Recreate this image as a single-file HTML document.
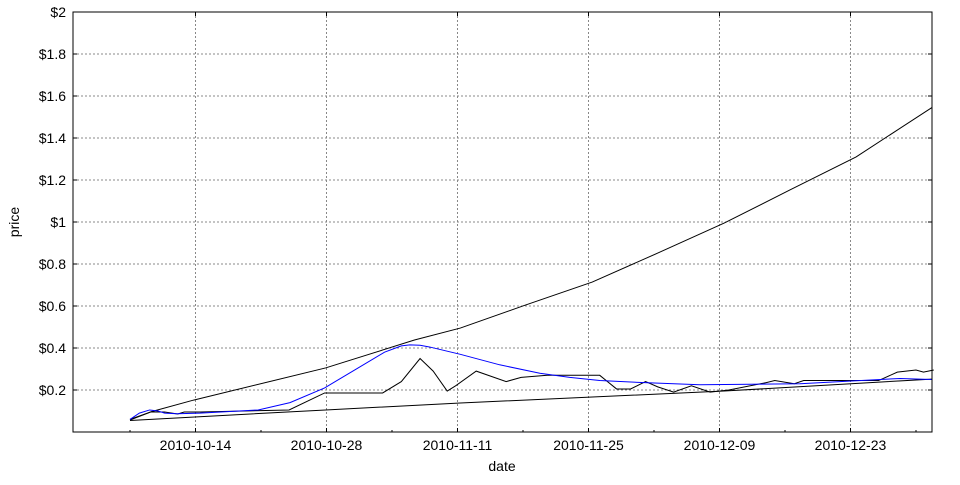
<!DOCTYPE html>
<html><head><meta charset="utf-8"><style>
body{margin:0;background:#fff;font-family:"Liberation Sans",sans-serif}
svg text{font-family:"Liberation Sans",sans-serif;font-size:14px;fill:#000}
</style></head><body>
<svg id="c" width="960" height="480"></svg>
<script>
const tickDates=["2010-10-14","2010-10-28","2010-11-11","2010-11-25","2010-12-09","2010-12-23"];
const yTicks=[0.2,0.4,0.6,0.8,1,1.2,1.4,1.6,1.8,2];
// days since 2010-10-07
const priceDays=[0,2.2,3.7,5.1,5.8,7.5,17,20.8,27,29,31,32.4,33.9,34.8,37,40.2,41.8,44.6,50.2,52,53.5,55.1,56.4,58.1,60,62,64,68,68.9,71,72,74,80,82,84,84.8,85.9];
const priceVals=[0.06,0.095,0.095,0.086,0.095,0.095,0.105,0.186,0.186,0.24,0.35,0.29,0.195,0.22,0.29,0.24,0.26,0.27,0.27,0.205,0.205,0.24,0.215,0.19,0.22,0.19,0.2,0.235,0.245,0.23,0.245,0.245,0.245,0.285,0.295,0.285,0.295];
const smoothDays=[0,1,2.1,3,3.7,5,7.5,13.7,17.1,20.8,24,27.2,29,29.9,31,32,35.3,39.5,43.8,47,50.2,55,60.9,71.6,82.3,85.7];
const smoothVals=[0.06,0.09,0.105,0.1,0.09,0.087,0.09,0.105,0.14,0.21,0.295,0.38,0.41,0.415,0.413,0.405,0.37,0.32,0.28,0.26,0.245,0.235,0.225,0.23,0.255,0.25];
const upperDays=[0,2.3,6.8,20.9,30.4,35.3,42.3,49.4,56.4,63.5,70.5,77.6,85.7];
const upperVals=[0.057,0.097,0.152,0.305,0.438,0.495,0.605,0.714,0.852,0.995,1.152,1.31,1.545];
const lowerDays=[0,20.9,35.3,63.5,85.7];
const lowerVals=[0.055,0.105,0.138,0.195,0.252];

const L=73,R=932,T=12,B=432;
const xOf=d=>130+d*9.357;
const yOf=v=>B-v*(B-T)/2;
const svg=document.getElementById('c');
const NS="http://www.w3.org/2000/svg";
function mk(t,a){const e=document.createElementNS(NS,t);for(const k in a)e.setAttribute(k,a[k]);svg.appendChild(e);return e;}
yTicks.forEach(v=>{
  const y=yOf(v);
  const g=mk('line',{x1:L,x2:R,y1:y,y2:y,stroke:'#888','stroke-dasharray':'2,2'});
  
  
  mk('line',{x1:L,x2:L+4,y1:y,y2:y,stroke:'#000'});
  mk('line',{x1:R,x2:R-4,y1:y,y2:y,stroke:'#000'});
  const t=mk('text',{x:L-7,y:y+5,'text-anchor':'end'});
  t.textContent='$'+v;
  
  
});
tickDates.forEach((s,i)=>{
  const x=xOf(7+i*14);
  const g=mk('line',{x1:x,x2:x,y1:T,y2:B,stroke:'#888','stroke-dasharray':'2,2'});
  
  
  mk('line',{x1:x,x2:x,y1:B,y2:B-4,stroke:'#000'});
  mk('line',{x1:x,x2:x,y1:T,y2:T+4,stroke:'#000'});
  const t=mk('text',{x:x,y:B+18,'text-anchor':'middle'});
  t.textContent=s;
  
  
});
for(let d=0;d<=84;d+=14){const x=xOf(d);mk('line',{x1:x,x2:x,y1:B,y2:B-2,stroke:'#000'});}
function line(ds,vs,col,name){
  const p=mk('polyline',{points:ds.map((d,i)=>xOf(d)+','+yOf(vs[i])).join(' '),fill:'none',stroke:col,'stroke-width':1});
  
  
}
line(upperDays,upperVals,'#000','upper-band-line');
line(lowerDays,lowerVals,'#000','lower-band-line');
line(priceDays,priceVals,'#000','price-line');
line(smoothDays,smoothVals,'#00f','smoothed-price-line');
const f=mk('rect',{x:L,y:T,width:R-L,height:B-T,fill:'none',stroke:'#000'});


const xt=mk('text',{x:502,y:471,'text-anchor':'middle'});xt.textContent='date';


const yt=mk('text',{x:19,y:222,'text-anchor':'middle',transform:'rotate(-90 19 222)'});yt.textContent='price';


</script>
</body></html>
